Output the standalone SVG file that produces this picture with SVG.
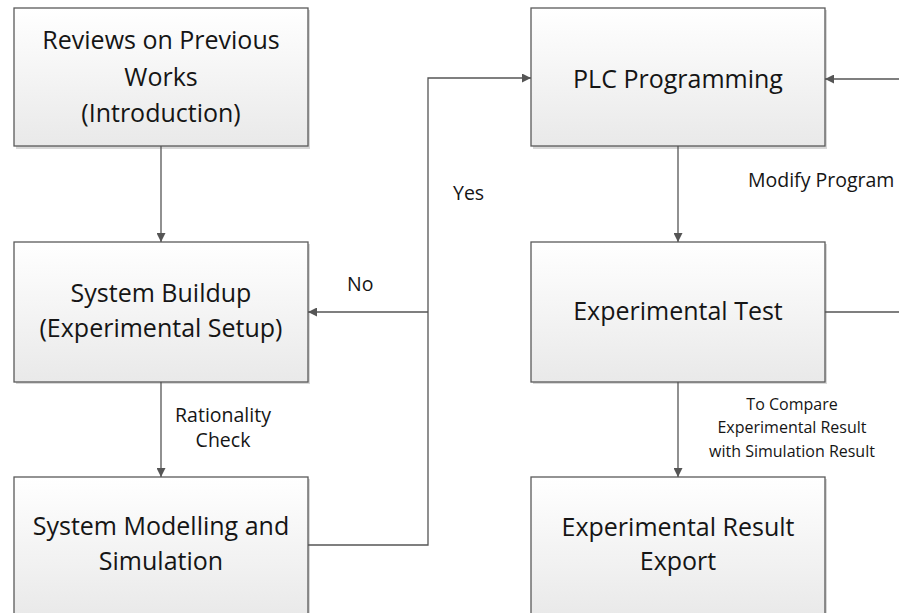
<svg xmlns="http://www.w3.org/2000/svg" width="899" height="613" viewBox="0 0 899 613">
<style>
.box{stroke:#5a5a5a;stroke-width:1.3;fill:url(#g)}
.sh{fill:#d8d8d8}
.t{font-family:"Open Sans","Liberation Sans",sans-serif;font-size:25px;fill:#151515;text-anchor:middle}
.l{font-family:"Open Sans","Liberation Sans",sans-serif;font-size:19.5px;fill:#151515}
.s{font-family:"Open Sans","Liberation Sans",sans-serif;font-size:16px;fill:#151515;text-anchor:middle}
.c{fill:none;stroke:#555;stroke-width:1.3}
</style>
<defs>
<linearGradient id="g" x1="0" y1="0" x2="0" y2="1">
<stop offset="0" stop-color="#ffffff"/>
<stop offset="1" stop-color="#e9e9e9"/>
</linearGradient>
<marker id="a" viewBox="0 0 10 10" refX="10" refY="5" markerWidth="9" markerHeight="9" markerUnits="userSpaceOnUse" orient="auto">
<path d="M0,0 L10,5 L0,10 z" fill="#555"/>
</marker>
</defs>
<rect width="899" height="613" fill="#fff"/>
<g id="n1">
<rect class="sh" x="16" y="10" width="294" height="139"/>
<rect class="box" x="14" y="8" width="294" height="138"/>
<text class="t" x="161" y="49">Reviews on Previous</text>
<text class="t" x="161" y="86">Works</text>
<text class="t" x="161" y="122">(Introduction)</text>
</g>
<g id="n2">
<rect class="sh" x="16" y="244" width="294" height="140"/>
<rect class="box" x="14" y="242" width="294" height="140"/>
<text class="t" x="161" y="302">System Buildup</text>
<text class="t" x="161" y="337">(Experimental Setup)</text>
</g>
<g id="n3">
<rect class="sh" x="16" y="479" width="294" height="140"/>
<rect class="box" x="14" y="477" width="294" height="140"/>
<text class="t" x="161" y="535">System Modelling and</text>
<text class="t" x="161" y="570">Simulation</text>
</g>
<g id="n4">
<rect class="sh" x="533" y="10" width="294" height="139"/>
<rect class="box" x="531" y="8" width="294" height="138"/>
<text class="t" x="678" y="88">PLC Programming</text>
</g>
<g id="n5">
<rect class="sh" x="533" y="244" width="294" height="140"/>
<rect class="box" x="531" y="242" width="294" height="140"/>
<text class="t" x="678" y="320">Experimental Test</text>
</g>
<g id="n6">
<rect class="sh" x="533" y="479" width="294" height="140"/>
<rect class="box" x="531" y="477" width="294" height="140"/>
<text class="t" x="678" y="536">Experimental Result</text>
<text class="t" x="678" y="570">Export</text>
</g>
<g id="connectors">
<path class="c" d="M161,146 V242" marker-end="url(#a)"/>
<path class="c" d="M161,382 V477" marker-end="url(#a)"/>
<path class="c" d="M308,545 H428 V78 H531" marker-end="url(#a)"/>
<path class="c" d="M428,312 H308" marker-end="url(#a)"/>
<path class="c" d="M678,146 V242" marker-end="url(#a)"/>
<path class="c" d="M678,382 V477" marker-end="url(#a)"/>
<path class="c" d="M899,79 H825" marker-end="url(#a)"/>
<path class="c" d="M825,312 H899"/>
<text class="l" x="347" y="291">No</text>
<text class="l" x="453" y="200">Yes</text>
<text class="l" x="223" y="422" text-anchor="middle">Rationality</text>
<text class="l" x="223" y="447" text-anchor="middle">Check</text>
<text class="l" x="748" y="187">Modify Program</text>
<text class="s" x="792" y="410">To Compare</text>
<text class="s" x="792" y="433">Experimental Result</text>
<text class="s" x="792" y="457">with Simulation Result</text>
</g>
</svg>
